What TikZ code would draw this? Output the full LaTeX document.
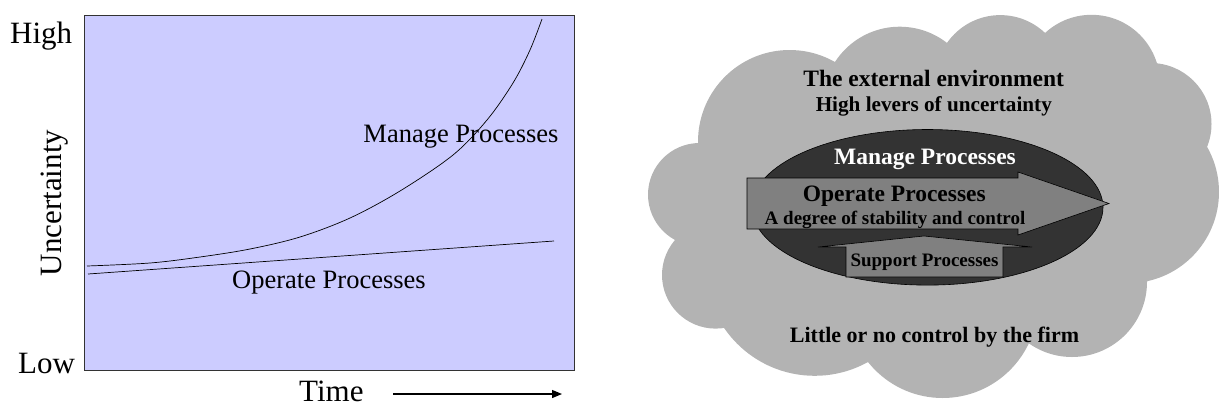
\documentclass[tikz,border=0pt]{standalone}
\usepackage{fontspec}
\setmainfont{Liberation Serif}
\usetikzlibrary{arrows.meta,shapes.geometric}
\definecolor{panel}{RGB}{204,204,255}
\definecolor{cloudg}{RGB}{179,179,179}
\definecolor{ellg}{RGB}{51,51,51}
\definecolor{arrg}{RGB}{128,128,128}
\newcommand{\fsz}[1]{\fontsize{#1}{#1}\selectfont}
\begin{document}
\begin{tikzpicture}[x=1pt,y=-1pt,
  txt/.style={inner sep=0pt, anchor=base},
  lefttxt/.style={txt, font=\fsz{31}},
  curvetxt/.style={txt, font=\fsz{26.5}},
  curveline/.style={line width=0.7pt},
  blockarrow/.style={fill=arrg, draw=black, line width=0.6pt},
  lobe/.style={fill=cloudg}]
\useasboundingbox (0,0) rectangle (1219,408);

% ---------- left panel ----------
\draw[fill=panel, draw=black!80, line width=0.8pt] (84,15) rectangle (574,370);
\draw[curveline] plot[smooth, tension=0.55] coordinates {(87,266) (150,263) (200,257) (250,249) (300,237) (350,218) (400,191) (453,155) (487,120) (513,83) (530,50) (542,19)};
\draw[curveline] (88,274) -- (554,241);

\node[lefttxt, anchor=base west] (high) at (10,43) {High};
\node[lefttxt, anchor=base west] (low) at (18,373) {Low};
\node[lefttxt, rotate=90] (unc) at (61.7,203) {Uncertainty};
\node[lefttxt, anchor=base west] (time) at (299,401) {Time};
\coordinate (tA) at (393,394);
\coordinate (tB) at (562,394);
\draw[-{Triangle[length=10pt,width=8pt]}, line width=1.2pt] (tA) -- (tB);
\node[curvetxt] (mgl) at (461,142.7) {Manage Processes};
\node[curvetxt] (opl) at (329,288.3) {Operate Processes};

% ---------- right panel: cloud ----------
\fill[lobe] (698,143) -- (835,62) -- (947,43) -- (1045,33) -- (1157,63) -- (1207,147) -- (1147,282) -- (1029,343) -- (868,362) -- (724,328) -- (675,240) -- cycle;
\fill[lobe] (699.6,194.6) circle[radius=51.6pt];
\fill[lobe] (789.6,141.6) circle[radius=91.6pt];
\fill[lobe] (899.7,103.7) circle[radius=77pt];
\fill[lobe] (1000.3,80.1) circle[radius=65pt];
\fill[lobe] (1091.5,83.2) circle[radius=68.4pt];
\fill[lobe] (1150.5,124) circle[radius=61pt];
\fill[lobe] (1127.7,192) circle[radius=91.3pt];
\fill[lobe] (1072,282) circle[radius=75pt];
\fill[lobe] (942.6,302.7) circle[radius=95.3pt];
\fill[lobe] (814.7,266.1) circle[radius=109.7pt];
\fill[lobe] (715.6,275) circle[radius=53.6pt];

% ellipse
\node[ellipse, draw=black, line width=0.6pt, fill=ellg, minimum width=351pt, minimum height=155.6pt, inner sep=0pt] (ell) at (927.5,207.3) {};

% block arrows
\draw[blockarrow] (747,178) -- (1018,178) -- (1018,172) -- (1109,203.5) -- (1018,235) -- (1018,229) -- (747,229) -- cycle;
\draw[blockarrow] (846,277) -- (846,247) -- (818,247) -- (924,236) -- (1032,247) -- (1003,247) -- (1003,277) -- cycle;

% texts
\node[txt, font=\bfseries\fsz{23.5}] (ext) at (933.7,86) {The external environment};
\node[txt, font=\bfseries\fsz{21.2}] (hlev) at (933.8,111) {High levers of uncertainty};
\node[txt, font=\bfseries\fsz{23.5}, text=white] (mgr) at (925,164.3) {Manage Processes};
\node[txt, font=\bfseries\fsz{23.5}] (opr) at (894.3,201) {Operate Processes};
\node[txt, font=\bfseries\fsz{19}] (deg) at (895,224.7) {A degree of stability and control};
\node[txt, font=\bfseries\fsz{19}] (sup) at (924.5,266.7) {Support Processes};
\node[txt, font=\bfseries\fsz{22}] (little) at (934.5,342.3) {Little or no control by the firm};
\end{tikzpicture}
\end{document}
